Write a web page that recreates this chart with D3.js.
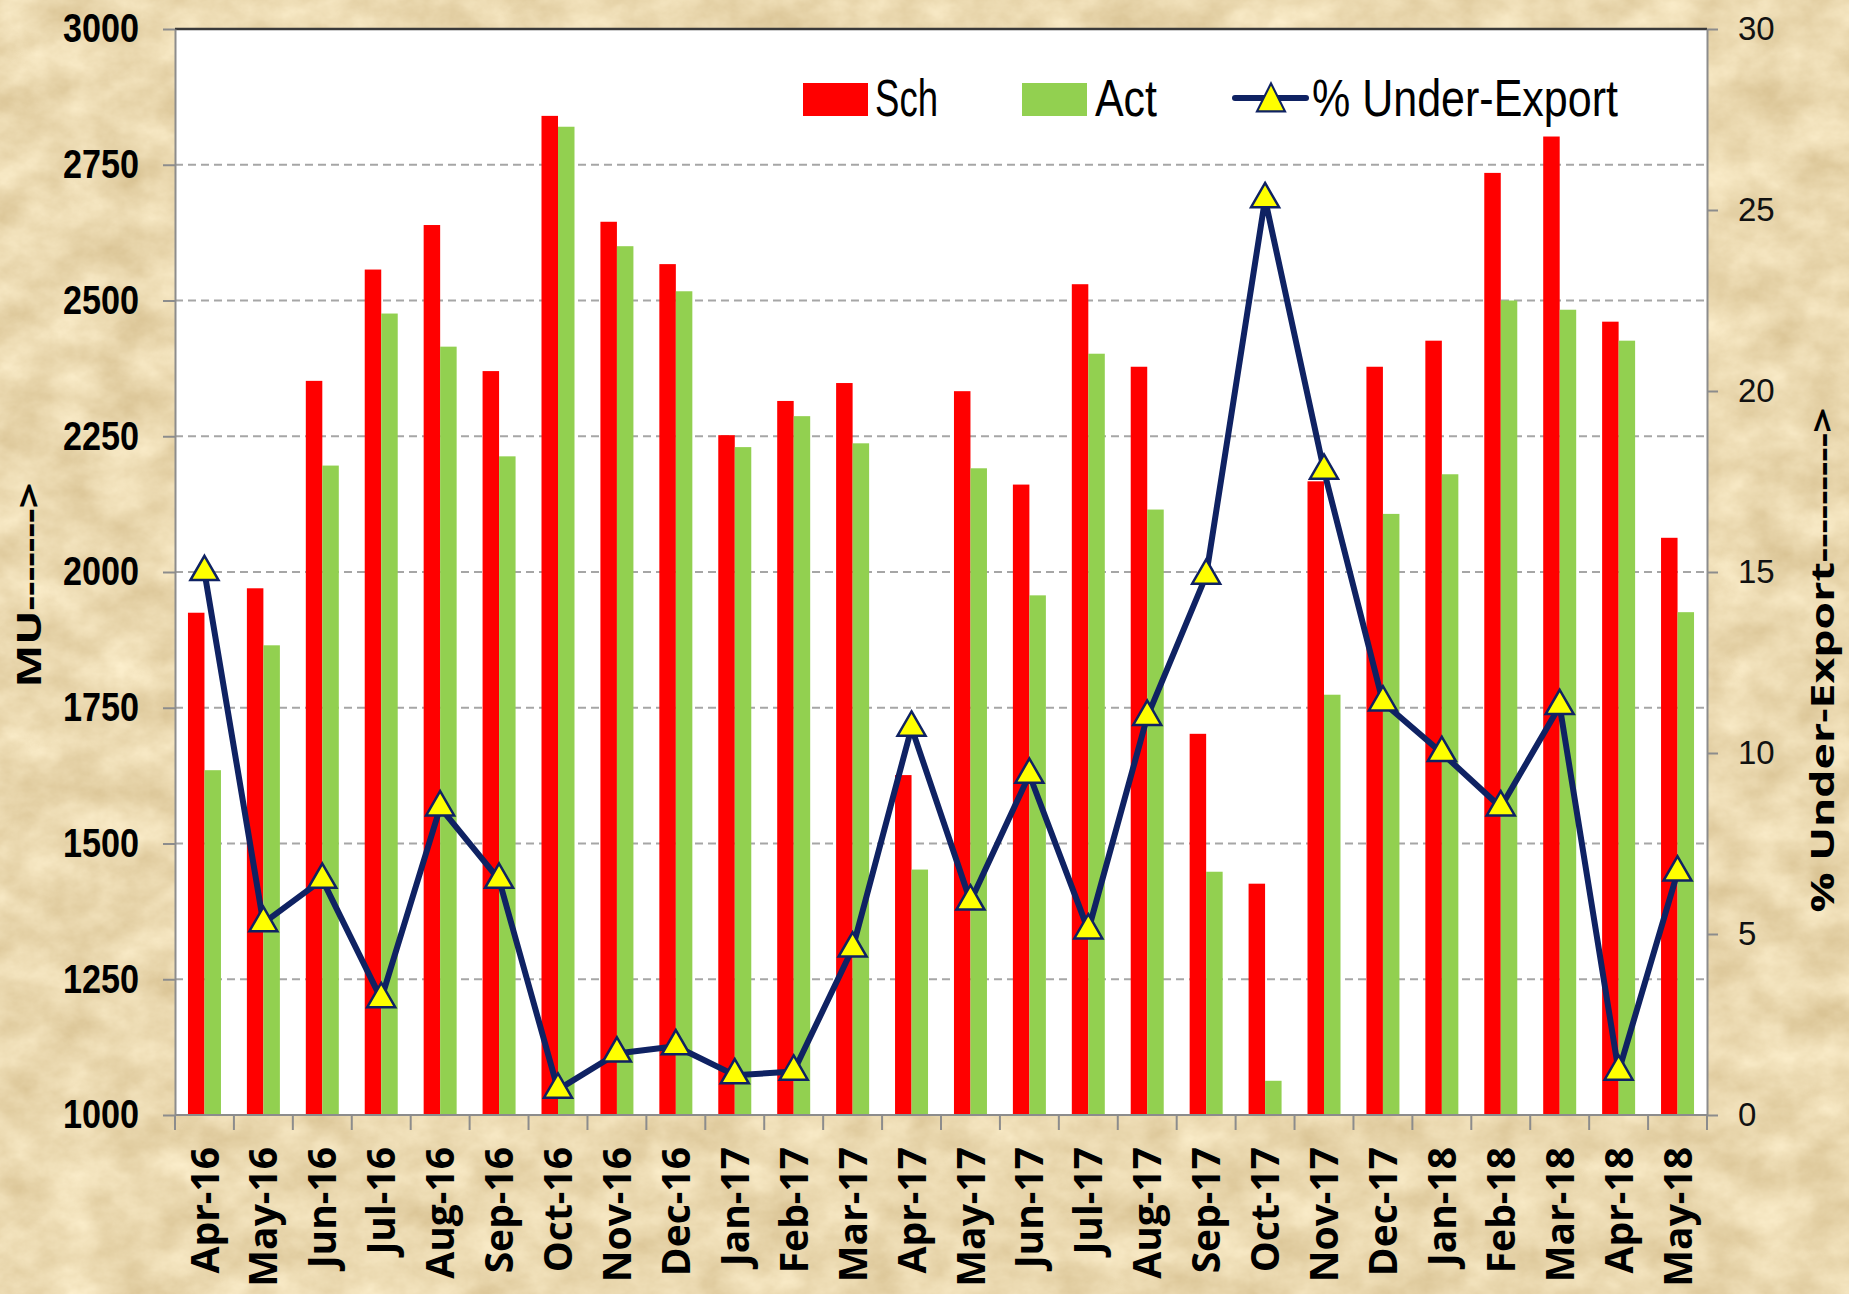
<!DOCTYPE html>
<html>
<head>
<meta charset="utf-8">
<script src="https://cdn.jsdelivr.net/npm/d3@7"></script>
<style>
  body { margin: 0; background: #e9d8b0; }
  svg { display: block; }
</style>
</head>
<body>
<svg id="chart" width="1849" height="1294"></svg>
<script>
// months on the x axis
const months = ["Apr-16", "May-16", "Jun-16", "Jul-16", "Aug-16", "Sep-16", "Oct-16", "Nov-16",
  "Dec-16", "Jan-17", "Feb-17", "Mar-17", "Apr-17", "May-17", "Jun-17", "Jul-17", "Aug-17",
  "Sep-17", "Oct-17", "Nov-17", "Dec-17", "Jan-18", "Feb-18", "Mar-18", "Apr-18", "May-18"];

// scheduled and actual energy (MU)
const sch = [1925, 1970, 2352, 2557, 2639, 2370, 2840, 2645, 2567, 2252, 2315, 2348, 1626,
  2333, 2161, 2530, 2378, 1702, 1426, 2167, 2378, 2426, 2735, 2802, 2461, 2063];
const act = [1635, 1865, 2196, 2476, 2415, 2213, 2820, 2600, 2517, 2230, 2287, 2237, 1452,
  2191, 1957, 2402, 2115, 1448, 1063, 1774, 2107, 2180, 2500, 2483, 2426, 1926];

// % under-export (right axis)
const underExport = [15.0, 5.3, 6.5, 3.2, 8.5, 6.5, 0.7, 1.7, 1.9, 1.1, 1.2, 4.6, 10.7,
  5.9, 9.4, 5.1, 11.0, 14.9, 25.3, 17.8, 11.4, 10.0, 8.5, 11.3, 1.2, 6.7];

const leftTicks = [1000, 1250, 1500, 1750, 2000, 2250, 2500, 2750, 3000];
const rightTicks = [0, 5, 10, 15, 20, 25, 30];

const RED = "#ff0000";
const GREEN = "#92d050";
const NAVY = "#0f2263";
const YELLOW = "#ffff00";

const plotL = 175, plotR = 1707, plotT = 29, plotB = 1115;

const svg = d3.select("#chart");

// parchment background
const defs = svg.append("defs");
const filt = defs.append("filter").attr("id", "paper")
  .attr("x", 0).attr("y", 0).attr("width", "100%").attr("height", "100%")
  .attr("color-interpolation-filters", "sRGB");
filt.append("feTurbulence").attr("type", "fractalNoise")
  .attr("baseFrequency", "0.02 0.026").attr("numOctaves", 5).attr("seed", 11);
filt.append("feColorMatrix").attr("type", "matrix")
  .attr("values", "0.16 0 0 0 0.84  0.2 0 0 0 0.75  0.26 0 0 0 0.56  0 0 0 0 1");
svg.append("rect").attr("width", 1849).attr("height", 1294).attr("filter", "url(#paper)");

// scales
const x0 = d3.scaleBand().domain(months).range([plotL, plotR])
  .paddingInner(0.44).paddingOuter(0.22);
const x1 = d3.scaleBand().domain(["sch", "act"]).range([0, x0.bandwidth()]);
const y = d3.scaleLinear().domain([1000, 3000]).range([plotB, plotT]);
const y2 = d3.scaleLinear().domain([0, 30]).range([plotB, plotT]);
const xb = d3.scaleLinear().domain([0, months.length]).range([plotL, plotR]);

// plot area
svg.append("rect").attr("x", plotL).attr("y", plotT)
  .attr("width", plotR - plotL).attr("height", plotB - plotT).attr("fill", "white");

// dashed grid lines
svg.append("g").selectAll("line")
  .data(leftTicks.slice(1, -1))
  .join("line")
  .attr("x1", plotL).attr("x2", plotR)
  .attr("y1", d => y(d)).attr("y2", d => y(d))
  .attr("stroke", "#a6a6a6").attr("stroke-width", 2)
  .attr("stroke-dasharray", "8,5");

// bars
const groups = svg.append("g").selectAll("g")
  .data(months)
  .join("g")
  .attr("transform", d => `translate(${x0(d)},0)`);
groups.append("rect")
  .attr("x", x1("sch")).attr("width", x1.bandwidth())
  .attr("y", (d, i) => y(sch[i])).attr("height", (d, i) => plotB - y(sch[i]))
  .attr("fill", RED);
groups.append("rect")
  .attr("x", x1("act")).attr("width", x1.bandwidth())
  .attr("y", (d, i) => y(act[i])).attr("height", (d, i) => plotB - y(act[i]))
  .attr("fill", GREEN);

// frame
svg.append("line").attr("x1", plotL).attr("x2", plotR).attr("y1", plotT).attr("y2", plotT)
  .attr("stroke", "#3a3a3a").attr("stroke-width", 2.5);

// left axis (narrow bold digits)
const gl = svg.append("g").attr("transform", `translate(${plotL},0)`)
  .call(d3.axisLeft(y).tickValues(leftTicks).tickFormat(d3.format("d"))
    .tickSize(12).tickPadding(24).tickSizeOuter(0));
gl.select(".domain").attr("stroke", "#8c8c8c").attr("stroke-width", 2);
gl.selectAll(".tick line").attr("stroke", "#8c8c8c").attr("stroke-width", 2);
gl.selectAll(".tick text")
  .attr("textLength", 76).attr("lengthAdjust", "spacingAndGlyphs")
  .style("font-family", "'Liberation Sans', sans-serif")
  .style("font-weight", "bold").style("font-size", "40px").attr("fill", "#000");

// right axis
const gr = svg.append("g").attr("transform", `translate(${plotR},0)`)
  .call(d3.axisRight(y2).tickValues(rightTicks).tickSize(11).tickPadding(20).tickSizeOuter(0));
gr.select(".domain").attr("stroke", "#8c8c8c").attr("stroke-width", 2);
gr.selectAll(".tick line").attr("stroke", "#8c8c8c").attr("stroke-width", 2);
gr.selectAll(".tick text")
  .style("font-family", "'Liberation Sans', sans-serif")
  .style("font-size", "33px").attr("fill", "#111");

// bottom axis: month labels
const gb = svg.append("g").attr("transform", `translate(0,${plotB})`)
  .call(d3.axisBottom(x0).tickSize(0).tickPadding(0));
gb.select(".domain").remove();
gb.selectAll(".tick text")
  .attr("transform", "rotate(-90)")
  .attr("x", -32).attr("y", 0).attr("dy", "0.36em")
  .attr("text-anchor", "end")
  .style("font-family", "'Open Sans', sans-serif")
  .style("font-weight", "bold").style("font-size", "39px").attr("fill", "#000");
gb.append("line").attr("x1", plotL).attr("x2", plotR)
  .attr("stroke", "#8c8c8c").attr("stroke-width", 2);
gb.selectAll("line.sep")
  .data(d3.range(months.length + 1))
  .join("line").attr("class", "sep")
  .attr("x1", d => xb(d)).attr("x2", d => xb(d))
  .attr("y1", 0).attr("y2", 15)
  .attr("stroke", "#8c8c8c").attr("stroke-width", 2);

// under-export line with triangle markers
const cx = d => x0(d) + x0.bandwidth() / 2;
const line = d3.line().x((d, i) => cx(months[i])).y(d => y2(d));
svg.append("path").datum(underExport)
  .attr("d", line).attr("fill", "none")
  .attr("stroke", NAVY).attr("stroke-width", 6).attr("stroke-linejoin", "round");

const tri = d3.symbol().type(d3.symbolTriangle).size(340);
svg.append("g").selectAll("path")
  .data(underExport)
  .join("path")
  .attr("d", tri)
  .attr("transform", (d, i) => `translate(${cx(months[i])},${y2(d)})`)
  .attr("fill", YELLOW).attr("stroke", NAVY).attr("stroke-width", 2.5);

// axis titles
svg.append("text")
  .attr("transform", "translate(29,585) rotate(-90)")
  .attr("text-anchor", "middle").attr("dy", "0.36em")
  .attr("textLength", 205).attr("lengthAdjust", "spacingAndGlyphs")
  .style("font-family", "'Open Sans', sans-serif").style("font-weight", "bold")
  .style("font-size", "34px")
  .text("MU------->");
svg.append("text")
  .attr("transform", "translate(1822,660) rotate(-90)")
  .attr("text-anchor", "middle").attr("dy", "0.36em")
  .attr("textLength", 505).attr("lengthAdjust", "spacingAndGlyphs")
  .style("font-family", "'Open Sans', sans-serif").style("font-weight", "bold")
  .style("font-size", "32px")
  .text("% Under-Export--------->");

// legend
const lg = svg.append("g");
lg.append("rect").attr("x", 803).attr("y", 83).attr("width", 65).attr("height", 33).attr("fill", RED);
lg.append("text").attr("x", 875).attr("y", 116).attr("textLength", 63).text("Sch");
lg.append("rect").attr("x", 1022).attr("y", 83).attr("width", 65).attr("height", 33).attr("fill", GREEN);
lg.append("text").attr("x", 1095).attr("y", 116).attr("textLength", 62).text("Act");
lg.append("line").attr("x1", 1235).attr("x2", 1306).attr("y1", 98).attr("y2", 98)
  .attr("stroke", NAVY).attr("stroke-width", 6).attr("stroke-linecap", "round");
lg.append("path").attr("d", tri)
  .attr("transform", "translate(1271,102) scale(1,1.15)")
  .attr("fill", YELLOW).attr("stroke", NAVY).attr("stroke-width", 2);
lg.append("text").attr("x", 1312).attr("y", 116).attr("textLength", 306).text("% Under-Export");
lg.selectAll("text")
  .attr("lengthAdjust", "spacingAndGlyphs")
  .style("font-family", "'Liberation Sans', sans-serif").style("font-size", "52px")
  .attr("fill", "#000");
</script>
</body>
</html>
